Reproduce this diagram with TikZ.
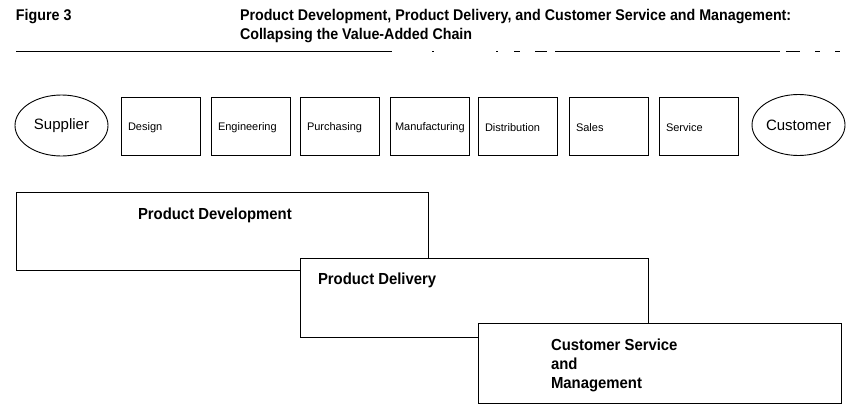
\documentclass[tikz,border=0pt]{standalone}
\usepackage{fontspec}
\setmainfont{Liberation Sans}
\newfontfamily\condb[FakeStretch=0.93]{Liberation Sans}
\newfontfamily\condh[FakeStretch=0.92]{Liberation Sans}
\usetikzlibrary{shapes.geometric}
\begin{document}
\begin{tikzpicture}[x=1pt,y=-1pt,
  every node/.style={inner sep=0pt, outer sep=0pt},
  stage/.style={draw, line width=0.9pt, minimum width=79pt, minimum height=58pt, anchor=north west},
  stagetxt/.style={anchor=west, font=\fontsize{11}{13}\selectfont},
  party/.style={draw, ellipse, line width=0.9pt, minimum width=93pt, minimum height=61pt, font=\fontsize{15}{17}\selectfont},
  bigbox/.style={draw, fill=white, line width=0.9pt, anchor=north west},
  bigtxt/.style={anchor=base west, align=left, font=\condb\bfseries\fontsize{16}{19}\selectfont},
  head/.style={anchor=base west, font=\condh\bfseries\fontsize{15.5}{19}\selectfont},
  rule/.style={line width=1pt}]
\useasboundingbox (0,0) rectangle (858,415);
% header
\node[head] (fig) at (16,20.5) {Figure 3};
\node[head] (t1) at (240,20.5) {Product Development, Product Delivery, and Customer Service and Management:};
\node[head] (t2) at (240,39.5) {Collapsing the Value-Added Chain};
\draw[rule] (16,51) -- (392,51);
\draw[rule] (432,51) -- (434,51);
\draw[rule] (496,51) -- (498,51);
\draw[rule] (514,51) -- (520,51);
\draw[rule] (535,51) -- (547,51);
\draw[rule] (555,51) -- (780,51);
\draw[rule] (786,51) -- (800,51);
\draw[rule] (815,51) -- (820,51);
\draw[rule] (835,51) -- (840,51);
% chain
\node[party] (sup) at (61.5,125.5) {Supplier};
\node[stage] (des) at (121,97) {};
\node[stagetxt] (desT) at ([xshift=7pt,yshift=-1.5pt]des.west) {Design};
\node[stage] (eng) at (211,97) {};
\node[stagetxt] (engT) at ([xshift=7pt,yshift=-1.5pt]eng.west) {Engineering};
\node[stage] (pur) at (300,97) {};
\node[stagetxt] (purT) at ([xshift=7pt,yshift=-1.5pt]pur.west) {Purchasing};
\node[stage] (man) at (390,97) {};
\node[stagetxt] (manT) at ([xshift=5pt,yshift=-1.5pt]man.west) {Manufacturing};
\node[stage] (dis) at (478,97) {};
\node[stagetxt] (disT) at ([xshift=7pt,yshift=-1.5pt]dis.west) {Distribution};
\node[stage] (sal) at (569,97) {};
\node[stagetxt] (salT) at ([xshift=7pt,yshift=-1.5pt]sal.west) {Sales};
\node[stage] (ser) at (659,97) {};
\node[stagetxt] (serT) at ([xshift=7pt,yshift=-1.5pt]ser.west) {Service};
\node[party] (cus) at (798.5,125) {Customer};
% big boxes
\node[bigbox, minimum width=412pt, minimum height=78pt] (pd) at (16,192) {};
\node[bigtxt] (pdT) at (138,219.5) {Product Development};
\node[bigbox, minimum width=348pt, minimum height=79pt] (del) at (300,258) {};
\node[bigtxt] (delT) at (318,284) {Product Delivery};
\node[bigbox, minimum width=363pt, minimum height=80pt] (csm) at (478,323) {};
\node[bigtxt] (csmT) at (551,388) {Customer Service\\and\\Management};
\end{tikzpicture}
\end{document}
